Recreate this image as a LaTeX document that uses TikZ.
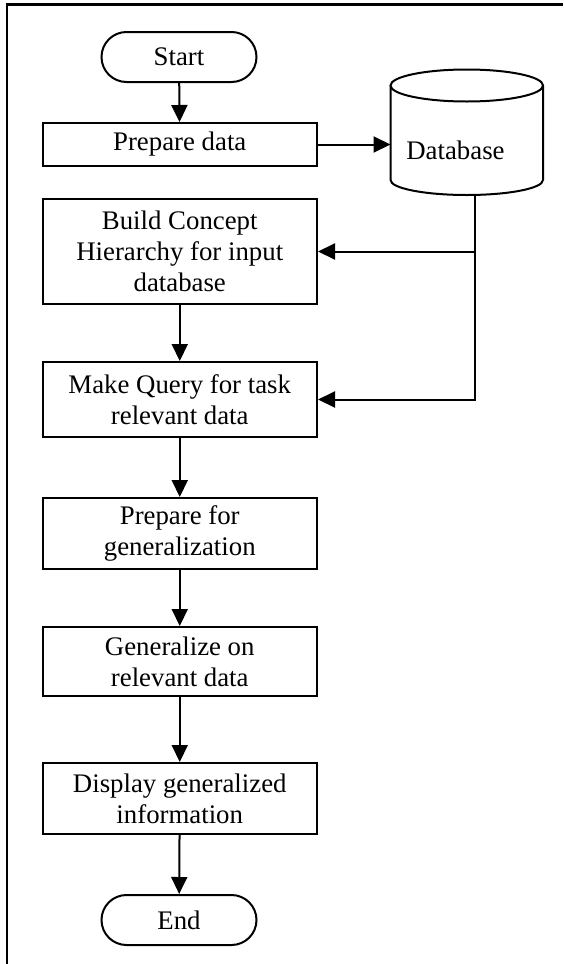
\documentclass[tikz,border=0pt]{standalone}
\usepackage{fontspec}
\setmainfont{Liberation Serif}
\usetikzlibrary{arrows.meta}
\begin{document}
\begin{tikzpicture}[x=0.5pt,y=-0.5pt,
  font=\fontsize{13.4}{15.5}\selectfont,
  box/.style={draw,line width=1pt,minimum width=137.25pt,align=center,inner sep=0pt},
  term/.style={draw,line width=1pt,rounded corners=12.5pt,minimum width=77.5pt,minimum height=25pt,inner sep=0pt},
  arr/.style={line width=1pt,-{Triangle[length=8.5pt,width=8pt]}},
  ln/.style={line width=1pt},
  frame/.style={line width=1.2pt}]
\useasboundingbox (0,0) rectangle (563,964);
% frame
\draw[frame] (7,964) -- (7,4.5) -- (563,4.5);
% nodes
\node[term] (start) at (179,57) {Start};
\node[box,minimum height=21.5pt] (prep) at (179.75,144.5) {Prepare data};
\node[box,minimum height=52.5pt] (build) at (179.75,251.5) {Build Concept\\Hierarchy for input\\database};
\node[box,minimum height=37.5pt] (mq) at (179.75,399.5) {Make Query for task\\relevant data};
\node[box,minimum height=35.5pt] (pf) at (179.75,533.5) {Prepare for\\generalization};
\node[box,minimum height=34.5pt] (gen) at (179.75,661.5) {Generalize on\\relevant data};
\node[box,minimum height=35.5pt] (disp) at (179.75,798.5) {Display generalized\\information};
\node[term] (end) at (179,920) {End};
% database cylinder
\draw[ln,fill=white] (390.5,85.5) -- (390.5,180) arc[start angle=180,end angle=0,x radius=76.25,y radius=15] -- (543,85.5);
\draw[ln] (466.75,85.5) ellipse[x radius=76.25,y radius=16];
\node (db) at (455.5,150) {Database};
\coordinate (dbw) at (390.5,144.5);
\coordinate (dbb) at (475,194.5);
\coordinate (j1) at (475,251.5);
% connectors
\draw[arr] (start) -- (prep);
\draw[arr] (prep.east) -- (dbw);
\draw[arr] (build) -- (mq);
\draw[arr] (mq) -- (pf);
\draw[arr] (pf) -- (gen);
\draw[arr] (gen) -- (disp);
\draw[arr] (disp) -- (end);
\draw[arr] (dbb) |- (mq.east);
\draw[arr] (j1) -- (build.east);
\end{tikzpicture}
\end{document}
